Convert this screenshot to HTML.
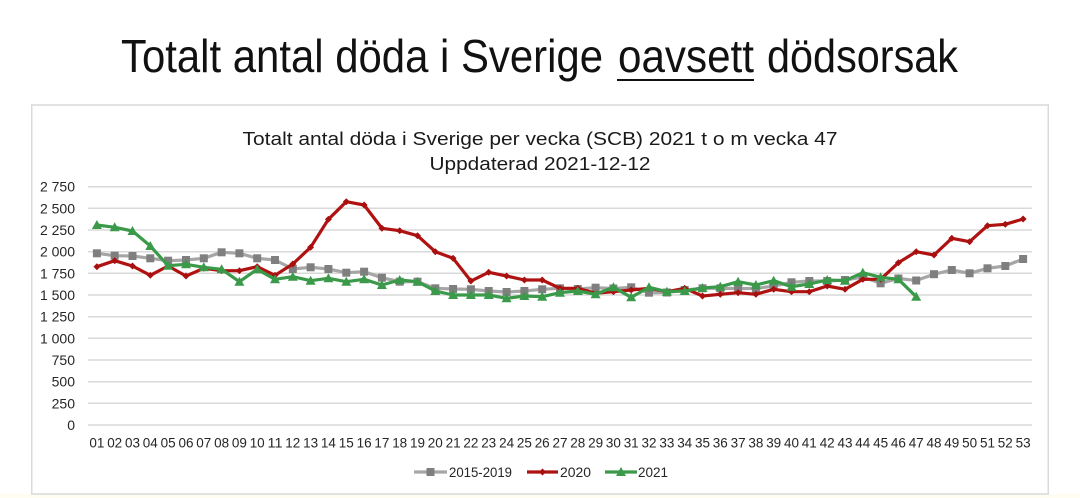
<!DOCTYPE html>
<html><head><meta charset="utf-8"><style>
html,body{margin:0;padding:0;background:#fff;}
svg{display:block;}
text{font-family:"Liberation Sans",sans-serif;}
</style></head><body>
<svg width="1080" height="498" viewBox="0 0 1080 498" xmlns="http://www.w3.org/2000/svg">
<defs>
<marker id="sq" markerUnits="userSpaceOnUse" markerWidth="9" markerHeight="9" viewBox="0 0 9 9" refX="4.5" refY="4.5"><rect x="0.5" y="0.5" width="8" height="8" fill="#7f7f7f"/></marker>
<marker id="dia" markerUnits="userSpaceOnUse" markerWidth="7" markerHeight="7" viewBox="0 0 7 7" refX="3.5" refY="3.5"><path d="M3.5 0 L7 3.5 L3.5 7 L0 3.5Z" fill="#a80f0f"/></marker>
<marker id="tri" markerUnits="userSpaceOnUse" markerWidth="11" markerHeight="10" viewBox="0 0 11 10" refX="5.5" refY="5.5"><path d="M5.5 0.5 L10.5 9.5 L0.5 9.5Z" fill="#3a9a4a"/></marker>
</defs>
<rect x="0" y="494" width="1080" height="4" fill="#fffdf2"/>
<!-- main title -->
<text x="121" y="72" font-size="46" fill="#111" textLength="482" lengthAdjust="spacingAndGlyphs">Totalt antal döda i Sverige</text>
<text x="618" y="72" font-size="46" fill="#111" textLength="136" lengthAdjust="spacingAndGlyphs">oavsett</text>
<rect x="617" y="79" width="137" height="2" fill="#111"/>
<text x="767" y="72" font-size="46" fill="#111" textLength="191" lengthAdjust="spacingAndGlyphs">dödsorsak</text>
<!-- chart frame -->
<rect x="31.75" y="105" width="1016.5" height="389" fill="#fff" stroke="#d9d9d9" stroke-width="1.5"/>
<text x="540" y="145" font-size="18" fill="#1a1a1a" text-anchor="middle" textLength="595" lengthAdjust="spacingAndGlyphs">Totalt antal döda i Sverige per vecka  (SCB) 2021 t o m vecka 47</text>
<text x="540" y="170" font-size="18" fill="#1a1a1a" text-anchor="middle" textLength="221" lengthAdjust="spacingAndGlyphs">Uppdaterad 2021-12-12</text>
<!-- gridlines -->
<g stroke="#d9d9d9" stroke-width="1.5">
<line x1="88" x2="1032" y1="425" y2="425"/>
<line x1="88" x2="1032" y1="403.3" y2="403.3"/>
<line x1="88" x2="1032" y1="381.7" y2="381.7"/>
<line x1="88" x2="1032" y1="360" y2="360"/>
<line x1="88" x2="1032" y1="338.3" y2="338.3"/>
<line x1="88" x2="1032" y1="316.7" y2="316.7"/>
<line x1="88" x2="1032" y1="295" y2="295"/>
<line x1="88" x2="1032" y1="273.3" y2="273.3"/>
<line x1="88" x2="1032" y1="251.7" y2="251.7"/>
<line x1="88" x2="1032" y1="230" y2="230"/>
<line x1="88" x2="1032" y1="208.3" y2="208.3"/>
<line x1="88" x2="1032" y1="186.7" y2="186.7"/>
</g>
<!-- y labels -->
<g font-size="14" fill="#262626" text-anchor="end">
<text x="75" y="430">0</text>
<text x="75" y="408.3">250</text>
<text x="75" y="386.7">500</text>
<text x="75" y="365">750</text>
<text x="75" y="343.3">1 000</text>
<text x="75" y="321.7">1 250</text>
<text x="75" y="300">1 500</text>
<text x="75" y="278.3">1 750</text>
<text x="75" y="256.7">2 000</text>
<text x="75" y="235">2 250</text>
<text x="75" y="213.3">2 500</text>
<text x="75" y="191.7">2 750</text>
</g>
<!-- x labels -->
<g font-size="14" fill="#262626" text-anchor="middle">
<text x="96.9" y="447.5" textLength="15" lengthAdjust="spacingAndGlyphs">01</text>
<text x="114.7" y="447.5" textLength="15" lengthAdjust="spacingAndGlyphs">02</text>
<text x="132.5" y="447.5" textLength="15" lengthAdjust="spacingAndGlyphs">03</text>
<text x="150.3" y="447.5" textLength="15" lengthAdjust="spacingAndGlyphs">04</text>
<text x="168.1" y="447.5" textLength="15" lengthAdjust="spacingAndGlyphs">05</text>
<text x="186.0" y="447.5" textLength="15" lengthAdjust="spacingAndGlyphs">06</text>
<text x="203.8" y="447.5" textLength="15" lengthAdjust="spacingAndGlyphs">07</text>
<text x="221.6" y="447.5" textLength="15" lengthAdjust="spacingAndGlyphs">08</text>
<text x="239.4" y="447.5" textLength="15" lengthAdjust="spacingAndGlyphs">09</text>
<text x="257.2" y="447.5" textLength="15" lengthAdjust="spacingAndGlyphs">10</text>
<text x="275.0" y="447.5" textLength="15" lengthAdjust="spacingAndGlyphs">11</text>
<text x="292.8" y="447.5" textLength="15" lengthAdjust="spacingAndGlyphs">12</text>
<text x="310.6" y="447.5" textLength="15" lengthAdjust="spacingAndGlyphs">13</text>
<text x="328.4" y="447.5" textLength="15" lengthAdjust="spacingAndGlyphs">14</text>
<text x="346.3" y="447.5" textLength="15" lengthAdjust="spacingAndGlyphs">15</text>
<text x="364.1" y="447.5" textLength="15" lengthAdjust="spacingAndGlyphs">16</text>
<text x="381.9" y="447.5" textLength="15" lengthAdjust="spacingAndGlyphs">17</text>
<text x="399.7" y="447.5" textLength="15" lengthAdjust="spacingAndGlyphs">18</text>
<text x="417.5" y="447.5" textLength="15" lengthAdjust="spacingAndGlyphs">19</text>
<text x="435.3" y="447.5" textLength="15" lengthAdjust="spacingAndGlyphs">20</text>
<text x="453.1" y="447.5" textLength="15" lengthAdjust="spacingAndGlyphs">21</text>
<text x="470.9" y="447.5" textLength="15" lengthAdjust="spacingAndGlyphs">22</text>
<text x="488.7" y="447.5" textLength="15" lengthAdjust="spacingAndGlyphs">23</text>
<text x="506.6" y="447.5" textLength="15" lengthAdjust="spacingAndGlyphs">24</text>
<text x="524.4" y="447.5" textLength="15" lengthAdjust="spacingAndGlyphs">25</text>
<text x="542.2" y="447.5" textLength="15" lengthAdjust="spacingAndGlyphs">26</text>
<text x="560.0" y="447.5" textLength="15" lengthAdjust="spacingAndGlyphs">27</text>
<text x="577.8" y="447.5" textLength="15" lengthAdjust="spacingAndGlyphs">28</text>
<text x="595.6" y="447.5" textLength="15" lengthAdjust="spacingAndGlyphs">29</text>
<text x="613.4" y="447.5" textLength="15" lengthAdjust="spacingAndGlyphs">30</text>
<text x="631.2" y="447.5" textLength="15" lengthAdjust="spacingAndGlyphs">31</text>
<text x="649.0" y="447.5" textLength="15" lengthAdjust="spacingAndGlyphs">32</text>
<text x="666.9" y="447.5" textLength="15" lengthAdjust="spacingAndGlyphs">33</text>
<text x="684.7" y="447.5" textLength="15" lengthAdjust="spacingAndGlyphs">34</text>
<text x="702.5" y="447.5" textLength="15" lengthAdjust="spacingAndGlyphs">35</text>
<text x="720.3" y="447.5" textLength="15" lengthAdjust="spacingAndGlyphs">36</text>
<text x="738.1" y="447.5" textLength="15" lengthAdjust="spacingAndGlyphs">37</text>
<text x="755.9" y="447.5" textLength="15" lengthAdjust="spacingAndGlyphs">38</text>
<text x="773.7" y="447.5" textLength="15" lengthAdjust="spacingAndGlyphs">39</text>
<text x="791.5" y="447.5" textLength="15" lengthAdjust="spacingAndGlyphs">40</text>
<text x="809.3" y="447.5" textLength="15" lengthAdjust="spacingAndGlyphs">41</text>
<text x="827.2" y="447.5" textLength="15" lengthAdjust="spacingAndGlyphs">42</text>
<text x="845.0" y="447.5" textLength="15" lengthAdjust="spacingAndGlyphs">43</text>
<text x="862.8" y="447.5" textLength="15" lengthAdjust="spacingAndGlyphs">44</text>
<text x="880.6" y="447.5" textLength="15" lengthAdjust="spacingAndGlyphs">45</text>
<text x="898.4" y="447.5" textLength="15" lengthAdjust="spacingAndGlyphs">46</text>
<text x="916.2" y="447.5" textLength="15" lengthAdjust="spacingAndGlyphs">47</text>
<text x="934.0" y="447.5" textLength="15" lengthAdjust="spacingAndGlyphs">48</text>
<text x="951.8" y="447.5" textLength="15" lengthAdjust="spacingAndGlyphs">49</text>
<text x="969.6" y="447.5" textLength="15" lengthAdjust="spacingAndGlyphs">50</text>
<text x="987.5" y="447.5" textLength="15" lengthAdjust="spacingAndGlyphs">51</text>
<text x="1005.3" y="447.5" textLength="15" lengthAdjust="spacingAndGlyphs">52</text>
<text x="1023.1" y="447.5" textLength="15" lengthAdjust="spacingAndGlyphs">53</text>
</g>
<!-- 2015-2019 -->
<polyline fill="none" stroke="#a6a6a6" stroke-width="3.2" stroke-linejoin="round" marker-start="url(#sq)" marker-mid="url(#sq)" marker-end="url(#sq)" points="96.9,253.3 114.7,255.7 132.5,256 150.3,258.3 168.1,260.7 186.0,260 203.8,258.3 221.6,252.3 239.4,253.3 257.2,258.3 275.0,260 292.8,269 310.6,267.3 328.4,269 346.3,272.7 364.1,271.7 381.9,277.7 399.7,281.7 417.5,281.7 435.3,288.3 453.1,289 470.9,289.3 488.7,291 506.6,292 524.4,291 542.2,289.3 560.0,288.3 577.8,289 595.6,287.7 613.4,288.5 631.2,287.3 649.0,292.7 666.9,292.5 684.7,290 702.5,288.3 720.3,288.3 738.1,288.5 755.9,288.5 773.7,286 791.5,282.3 809.3,281 827.2,281 845.0,280 862.8,277 880.6,283.3 898.4,278.5 916.2,280.5 934.0,274.2 951.8,270 969.6,273.3 987.5,268.3 1005.3,266 1023.1,259"/>
<!-- 2020 -->
<polyline fill="none" stroke="#b01212" stroke-width="3.2" stroke-linejoin="round" marker-start="url(#dia)" marker-mid="url(#dia)" marker-end="url(#dia)" points="96.9,266.7 114.7,260.7 132.5,266 150.3,275.3 168.1,266 186.0,276 203.8,268.3 221.6,270.7 239.4,270.7 257.2,266.7 275.0,275.3 292.8,264 310.6,247.3 328.4,219.3 346.3,201.7 364.1,205 381.9,228.3 399.7,230.7 417.5,235.7 435.3,251.7 453.1,258.3 470.9,281 488.7,272.3 506.6,276 524.4,280 542.2,280 560.0,288.3 577.8,288.3 595.6,293.3 613.4,291.7 631.2,290 649.0,288.3 666.9,291.7 684.7,288.3 702.5,296 720.3,294.3 738.1,292.7 755.9,294.3 773.7,289.3 791.5,291.7 809.3,291.7 827.2,286 845.0,289.3 862.8,279.3 880.6,279.3 898.4,262.7 916.2,251.7 934.0,255 951.8,238.3 969.6,241.7 987.5,225.7 1005.3,224.3 1023.1,219"/>
<!-- 2021 -->
<polyline fill="none" stroke="#3a9a4a" stroke-width="3.2" stroke-linejoin="round" marker-start="url(#tri)" marker-mid="url(#tri)" marker-end="url(#tri)" points="96.9,225 114.7,227.3 132.5,231 150.3,246 168.1,265.7 186.0,264.3 203.8,267.3 221.6,269.3 239.4,281.7 257.2,269.3 275.0,279.3 292.8,276.7 310.6,280.7 328.4,278.3 346.3,281.7 364.1,279.3 381.9,285 399.7,280 417.5,281.7 435.3,291 453.1,295 470.9,295 488.7,295 506.6,298.3 524.4,296 542.2,296.7 560.0,292.7 577.8,291 595.6,294.3 613.4,287.3 631.2,297.3 649.0,287.3 666.9,291.7 684.7,291 702.5,288 720.3,286.7 738.1,281.7 755.9,285 773.7,280.7 791.5,286.7 809.3,284 827.2,280 845.0,280.7 862.8,272.7 880.6,277.3 898.4,279.3 916.2,296.7"/>
<!-- legend -->
<line x1="414" x2="447" y1="472" y2="472" stroke="#a6a6a6" stroke-width="3.2"/>
<rect x="426.5" y="468" width="8" height="8" fill="#7f7f7f"/>
<text x="449" y="477" font-size="14" fill="#262626" textLength="63" lengthAdjust="spacingAndGlyphs">2015-2019</text>
<line x1="527" x2="558" y1="472" y2="472" stroke="#b01212" stroke-width="3.2"/>
<path d="M542.5 468.5 L546 472 L542.5 475.5 L539 472Z" fill="#a80f0f"/>
<text x="560" y="477" font-size="14" fill="#262626" textLength="31" lengthAdjust="spacingAndGlyphs">2020</text>
<line x1="605" x2="637" y1="472" y2="472" stroke="#3a9a4a" stroke-width="3.2"/>
<path d="M621 467 L626 476 L616 476Z" fill="#3a9a4a"/>
<text x="638" y="477" font-size="14" fill="#262626" textLength="30" lengthAdjust="spacingAndGlyphs">2021</text>
</svg>
</body></html>
